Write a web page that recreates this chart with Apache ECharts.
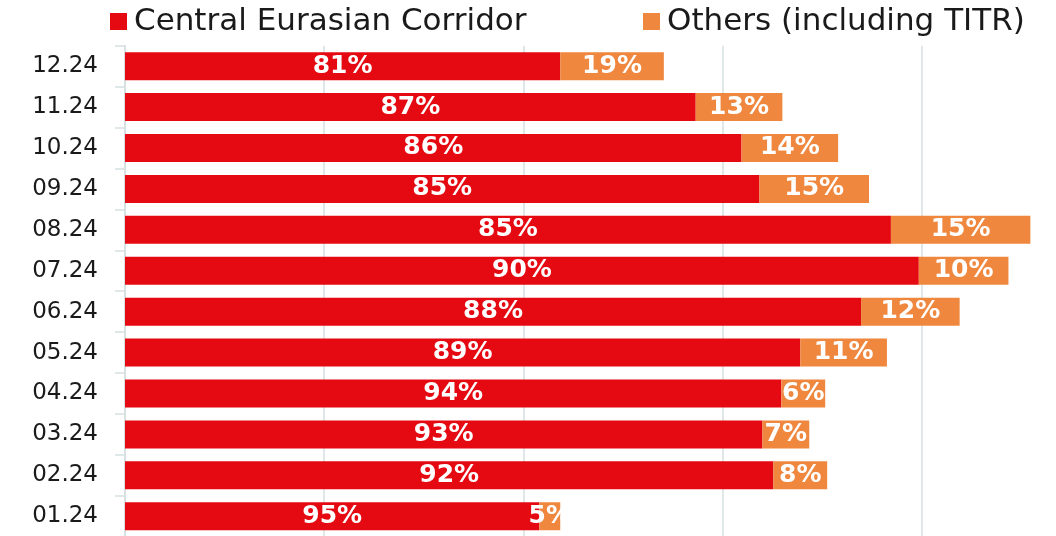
<!DOCTYPE html>
<html>
<head>
<meta charset="utf-8">
<script src="https://cdn.jsdelivr.net/npm/echarts@6/dist/echarts.min.js"></script>
<style>html,body{margin:0;padding:0;background:#fff}#c{width:1056px;height:536px}</style>
</head>
<body>
<div id="c"></div>
<script>
// categories, top to bottom
var months = ['12.24','11.24','10.24','09.24','08.24','07.24','06.24','05.24','04.24','03.24','02.24','01.24'];
// bar lengths (relative volume units)
var centralValues = [43.7, 57.3, 61.9, 63.7, 76.9, 79.7, 73.9, 67.8, 65.9, 64.0, 65.1, 41.6];
var othersValues  = [10.4, 8.7, 9.7, 11.0, 14.0, 9.0, 9.9, 8.7, 4.4, 4.7, 5.4, 2.1];
// share labels shown on the bars
var centralShare = [81, 87, 86, 85, 85, 90, 88, 89, 94, 93, 92, 95];
var othersShare  = [19, 13, 14, 15, 15, 10, 12, 11, 6, 7, 8, 5];

var FONT = '"DejaVu Sans", sans-serif';
var chart = echarts.init(document.getElementById('c'), null, {renderer: 'canvas'});
var labelStyle = {
  show: true, position: 'inside', color: '#fff', fontFamily: FONT,
  fontWeight: 'bold', fontSize: 25
};
chart.setOption({
  animation: false,
  legend: [
    {data: ['Central Eurasian Corridor'], left: 105, top: 1, itemWidth: 17, itemHeight: 17,
     icon: 'rect', textStyle: {fontFamily: FONT, fontSize: 31, color: '#1a1a1a', padding: [0,0,0,2]}},
    {data: ['Others (including TITR)'], left: 638, top: 1, itemWidth: 17, itemHeight: 17,
     icon: 'rect', textStyle: {fontFamily: FONT, fontSize: 31, color: '#1a1a1a', padding: [0,0,0,2]}}
  ],
  grid: {left: 125, top: 45.7, height: 491, width: 996, outerBoundsMode: 'none', containLabel: false},
  xAxis: {
    type: 'value', min: 0, max: 100, interval: 20,
    axisLabel: {show: false}, axisLine: {show: false}, axisTick: {show: false},
    splitLine: {show: true, lineStyle: {color: '#d6dfe1', width: 1.5}}
  },
  yAxis: {
    type: 'category', data: months, inverse: true,
    axisLine: {show: true, lineStyle: {color: '#d6dfe1', width: 1.5}},
    axisTick: {show: true, length: 10, lineStyle: {color: '#d6dfe1', width: 1.5}},
    axisLabel: {margin: 27, color: '#1a1a1a', fontFamily: FONT, fontSize: 23}
  },
  series: [
    {name: 'Central Eurasian Corridor', type: 'bar', stack: 's', data: centralValues,
     barWidth: 28, itemStyle: {color: '#E50A12'},
     label: Object.assign({}, labelStyle, {formatter: function(p){return centralShare[p.dataIndex] + '%';}})},
    {name: 'Others (including TITR)', type: 'bar', stack: 's', data: othersValues,
     barWidth: 28, itemStyle: {color: '#EF873E'},
     label: Object.assign({}, labelStyle, {formatter: function(p){return othersShare[p.dataIndex] + '%';}})}
  ]
});
</script>
</body>
</html>
